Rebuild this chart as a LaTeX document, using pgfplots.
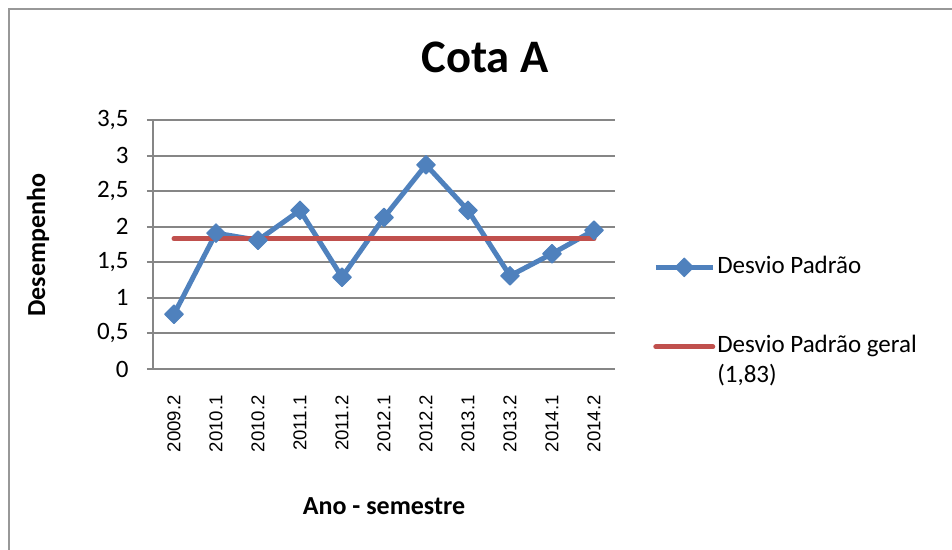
\documentclass[border=0pt]{standalone}
\usepackage{fontspec}
\setmainfont{Carlito}
\newfontfamily\arialfont{Liberation Sans}
\usepackage{pgfplots}
\pgfplotsset{compat=1.18}
\definecolor{serieblue}{RGB}{79,129,189}
\definecolor{seriered}{RGB}{192,80,77}
\definecolor{gridgray}{RGB}{134,134,134}

\begin{document}
\begin{tikzpicture}
\path[use as bounding box] (0pt,0pt) rectangle (476pt,275pt);
% chart area frame, cut at right and bottom
\draw[gridgray!85, line width=1pt] (4.5pt,0pt) -- (4.5pt,270.5pt) -- (476pt,270.5pt);
\node[anchor=base, font=\bfseries\fontsize{23.3}{28}\selectfont] at (242.5pt,238.5pt) {Cota A};
\node[rotate=90, anchor=base, font=\bfseries\fontsize{13}{15}\selectfont] at (22.5pt,152.5pt) {Desempenho};
\node[anchor=base, font=\bfseries\fontsize{13}{15}\selectfont] at (192pt,17.5pt) {Ano - semestre};

\begin{axis}[
    at={(76.5pt,90.5pt)}, anchor=south west,
    scale only axis, width=231pt, height=124.5pt,
    xmin=-0.5, xmax=10.5, ymin=0, ymax=3.5,
    xtick={0,...,10},
    xticklabels={2009.2,2010.1,2010.2,2011.1,2011.2,2012.1,2012.2,2013.1,2013.2,2014.1,2014.2},
    ytick={0,0.5,...,3.5},
    axis x line=bottom, axis y line=left,
    axis line style={-, gridgray, line width=1pt},
    ymajorgrids, grid style={gridgray, line width=1pt},
    xtick style={draw=none},
    ytick style={gridgray, line width=1pt},
    tick align=outside, major tick length=3pt,
    yticklabel style={font=\fontsize{12.5}{15}\selectfont, inner sep=0pt, xshift=-9pt,
        /pgf/number format/use comma, /pgf/number format/assume math mode=true},
    xticklabel style={font=\arialfont\fontsize{9.3}{11}\selectfont, rotate=90, anchor=east, inner sep=0pt},
    xticklabel shift=10pt,
    legend style={at={(1.082,0.458)}, anchor=north west, draw=none, fill=none,
        inner sep=0pt, row sep=27.75pt, column sep=1pt,
        font=\fontsize{12.5}{15}\selectfont,
        nodes={inner sep=0pt, text height=9pt, text depth=3pt},
        cells={anchor=west}},
    legend image code/.code={\draw[mark repeat=2,mark phase=2,#1] plot coordinates {(0pt,0pt)(14.25pt,0pt)(28.5pt,0pt)};},
]
\addplot[serieblue, line width=2.5pt, line join=round, mark=square*, mark size=3.3pt,
    mark options={rotate=45, line width=0.5pt}]
    coordinates {(0,0.77)(1,1.91)(2,1.81)(3,2.23)(4,1.29)(5,2.13)(6,2.87)(7,2.23)(8,1.31)(9,1.62)(10,1.95)};
\addlegendentry{Desvio Padrão}
\addplot[seriered, line width=2.5pt, line cap=round]
    coordinates {(0,1.83)(10,1.83)};
\addlegendentry{\parbox[t]{110pt}{Desvio Padrão geral\\(1,83)}}
\end{axis}
\end{tikzpicture}
\end{document}
